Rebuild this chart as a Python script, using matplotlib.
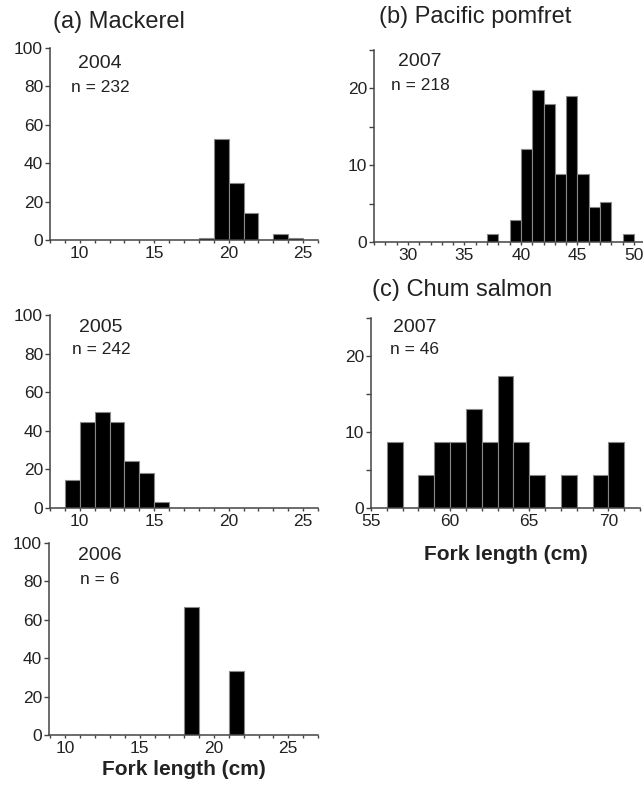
import matplotlib
matplotlib.use("Agg")
import matplotlib.pyplot as plt
from matplotlib.ticker import MultipleLocator
import numpy as np

plt.rcParams['font.family'] = ['Liberation Sans', 'DejaVu Sans']

# ---- data (bin left edges in cm, bar heights) ----
mack2004_bins = [18, 19, 20, 21, 22, 23, 24]
mack2004_vals = [0.9, 52.6, 29.7, 14.2, 0, 3.0, 0.9]

mack2005_bins = [9, 10, 11, 12, 13, 14, 15]
mack2005_vals = [14.5, 44.6, 50.0, 44.6, 24.4, 18.2, 2.9]

mack2006_bins = [18, 21]
mack2006_vals = [66.7, 33.3]

pomf2007_bins = [37, 38, 39, 40, 41, 42, 43, 44, 45, 46, 47, 48, 49]
pomf2007_vals = [1.0, 0, 2.9, 12.1, 19.8, 18.0, 8.9, 19.0, 8.9, 4.6, 5.2, 0, 1.0]

chum2007_bins = [56, 57, 58, 59, 60, 61, 62, 63, 64, 65, 66, 67, 68, 69, 70]
chum2007_vals = [8.7, 0, 4.35, 8.7, 8.7, 13.0, 8.7, 17.4, 8.7, 4.35, 0, 4.35, 0, 4.35, 8.7]

W, H = 643, 789
fig = plt.figure(figsize=(W / 100, H / 100), dpi=100)

def ax_px(l, r, t, b):
    return fig.add_axes([l / W, (H - b) / H, (r - l) / W, (b - t) / H])

SP = '#444444'
TXT = '#222222'

def style(ax, xlim, xmaj, ylim, ymaj, ymin=None):
    ax.set_xlim(*xlim)
    ax.set_ylim(*ylim)
    for s in ['top', 'right']:
        ax.spines[s].set_visible(False)
    for s in ['left', 'bottom']:
        ax.spines[s].set_color(SP)
        ax.spines[s].set_linewidth(1.1)
    ax.xaxis.set_major_locator(MultipleLocator(xmaj))
    ax.xaxis.set_minor_locator(MultipleLocator(1))
    ax.yaxis.set_major_locator(MultipleLocator(ymaj))
    if ymin:
        ax.yaxis.set_minor_locator(MultipleLocator(ymin))
    ax.tick_params(axis='both', which='both', direction='out', color=SP,
                   width=1.0, labelsize=12.5, labelcolor=TXT)
    ax.tick_params(axis='x', which='both', length=2.5, pad=1.5)
    ax.tick_params(axis='y', which='both', length=3.5, pad=1.5)
    ax.patch.set_alpha(0)

def bars(ax, bins, vals):
    ax.bar(bins, vals, width=1.0, align='edge', color='black',
           edgecolor='#888888', linewidth=0.8, zorder=1)

def label(ax, year, n, x, y1, y2):
    fig.text(x / W, 1 - y1 / H, year, ha='center', va='center', fontsize=14, color=TXT)
    fig.text(x / W, 1 - y2 / H, n, ha='center', va='center', fontsize=12.5, color=TXT)

# (a) 2004
a1 = ax_px(50, 318, 48, 240)
bars(a1, mack2004_bins, mack2004_vals)
style(a1, (8, 26), 5, (0, 100), 20)
label(a1, '2004', 'n = 232', 100, 63, 87)

# (a) 2005
a2 = ax_px(50, 318, 315, 508)
bars(a2, mack2005_bins, mack2005_vals)
style(a2, (8, 26), 5, (0, 100), 20)
label(a2, '2005', 'n = 242', 101, 328, 350)

# (a) 2006
a3 = ax_px(49, 318, 543, 735)
bars(a3, mack2006_bins, mack2006_vals)
style(a3, (8.9, 27), 5, (0, 100), 20)
label(a3, '2006', 'n = 6', 100, 555, 580)
a3.set_xlabel('Fork length (cm)', fontsize=15, fontweight='bold', labelpad=3, color=TXT)

# (b) pomfret
b1 = ax_px(374, 643, 50, 242)
bars(b1, pomf2007_bins, pomf2007_vals)
style(b1, (27, 50.8), 5, (0, 25), 10, 5)
label(b1, '2007', 'n = 218', 420, 62, 85)

# (c) chum
c1 = ax_px(371, 640, 318, 508)
bars(c1, chum2007_bins, chum2007_vals)
style(c1, (55, 72), 5, (0, 25), 10, 5)
label(c1, '2007', 'n = 46', 415, 327, 350)
c1.set_xlabel('Fork length (cm)', fontsize=15, fontweight='bold', labelpad=12, color=TXT)

# panel titles
fig.text(53 / W, 1 - 22 / H, '(a) Mackerel', ha='left', va='center', fontsize=17, color=TXT)
fig.text(379 / W, 1 - 17 / H, '(b) Pacific pomfret', ha='left', va='center', fontsize=17, color=TXT)
fig.text(372 / W, 1 - 290 / H, '(c) Chum salmon', ha='left', va='center', fontsize=17, color=TXT)

fig.savefig('out.png', dpi=100)
